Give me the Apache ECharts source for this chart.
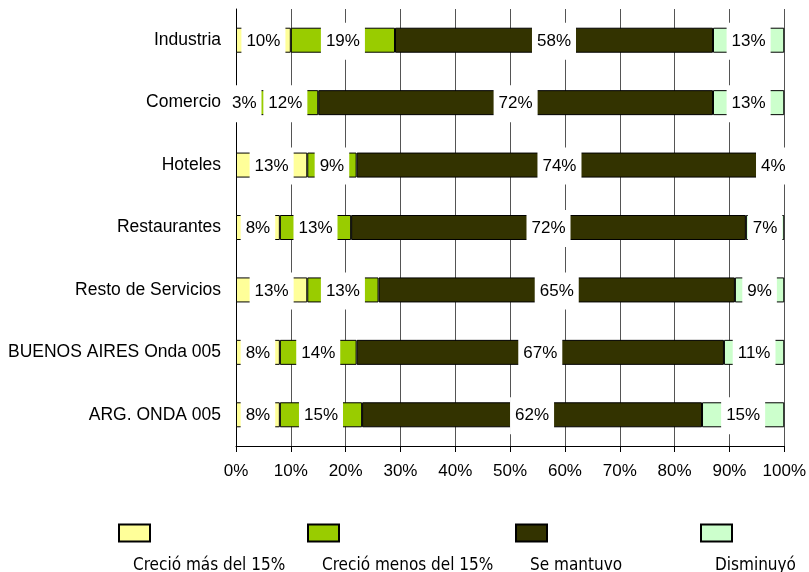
<!DOCTYPE html>
<html>
<head>
<meta charset="utf-8">
<script src="https://cdn.jsdelivr.net/npm/echarts@6/dist/echarts.min.js"></script>
<style>
html, body { margin: 0; padding: 0; background: #fff; }
#chart { width: 809px; height: 572px; }
</style>
</head>
<body>
<div id="chart"></div>
<script>
// valores en % por sector (de arriba hacia abajo)
const categories = ['Industria', 'Comercio', 'Hoteles', 'Restaurantes', 'Resto de Servicios', 'BUENOS AIRES Onda 005', 'ARG. ONDA 005'];
const crecioMas = [10, 3, 13, 8, 13, 8, 8];
const crecioMenos = [19, 12, 9, 13, 13, 14, 15];
const seMantuvo = [58, 72, 74, 72, 65, 67, 62];
const disminuyo = [13, 13, 4, 7, 9, 11, 15];
const seriesNames = ['Creció más del 15%', 'Creció menos del 15%', 'Se mantuvo', 'Disminuyó'];
const seriesColors = ['#FFFF99', '#99CC00', '#333300', '#CCFFCC'];

const seriesData = [crecioMas, crecioMenos, seMantuvo, disminuyo];
const legendLeft = [113, 302, 510, 695];

const chart = echarts.init(document.getElementById('chart'));

chart.setOption({
    animation: false,
    grid: {
        left: 236,
        right: 24,
        top: 9,
        bottom: 126
    },
    // una leyenda por serie: cuadro arriba, texto debajo
    legend: seriesNames.map((name, i) => ({
        data: [name],
        left: legendLeft[i],
        top: 484,
        icon: 'rect',
        itemWidth: 31,
        itemHeight: 17,
        selectedMode: false,
        itemStyle: {
            borderColor: '#000',
            borderWidth: 2
        },
        formatter: n => '\n\n\n' + n,
        textStyle: {
            fontFamily: 'DejaVu Sans Condensed',
            fontSize: 17,
            lineHeight: 22,
            color: '#000',
            padding: [0, 0, 0, -22]
        }
    })),
    xAxis: {
        type: 'value',
        min: 0,
        max: 100,
        interval: 10,
        axisLine: {
            show: true,
            lineStyle: { color: '#000', width: 1 }
        },
        axisTick: {
            show: true,
            length: 6,
            lineStyle: { color: '#000' }
        },
        axisLabel: {
            formatter: '{value}%',
            fontFamily: 'Liberation Sans',
            fontSize: 17,
            color: '#000',
            margin: 17
        },
        splitLine: {
            show: true,
            lineStyle: { color: '#555', width: 1 }
        }
    },
    yAxis: {
        type: 'category',
        data: categories,
        inverse: true,
        axisLine: {
            show: true,
            lineStyle: { color: '#000', width: 1 }
        },
        axisTick: { show: false },
        axisLabel: {
            fontFamily: 'Liberation Sans',
            fontSize: 17.5,
            color: '#000',
            margin: 15
        }
    },
    series: seriesNames.map((name, i) => ({
        name: name,
        type: 'bar',
        stack: 'total',
        barWidth: 25,
        data: seriesData[i],
        itemStyle: {
            color: seriesColors[i],
            borderColor: '#000',
            borderWidth: 1
        },
        emphasis: { disabled: true },
        label: {
            show: true,
            position: 'inside',
            formatter: '{c}%',
            fontFamily: 'Liberation Sans',
            fontSize: 17,
            color: '#000',
            backgroundColor: '#fff',
            padding: [6, 5, 14, 5],
            offset: [0, 1]
        }
    }))
});
</script>
</body>
</html>
